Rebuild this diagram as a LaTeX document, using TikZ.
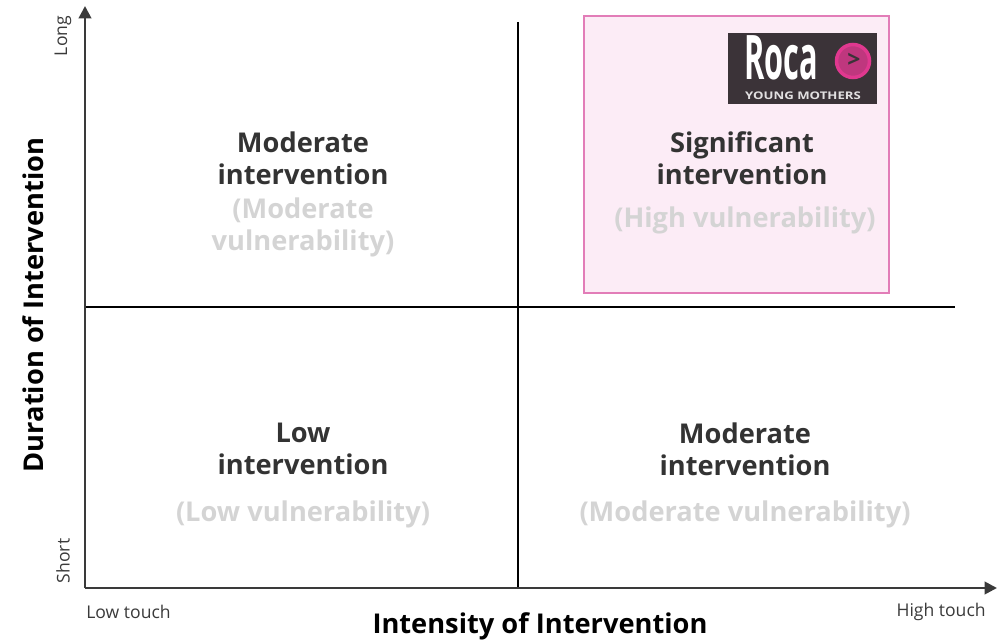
\documentclass[tikz,border=0pt]{standalone}
\usepackage{fontspec}
\setmainfont{Open Sans}
\usetikzlibrary{arrows.meta}
\definecolor{axisgray}{HTML}{3A3A3A}
\definecolor{textdark}{HTML}{333333}
\definecolor{textlight}{HTML}{D4D4D4}
\definecolor{boxpink}{HTML}{E27DB8}
\definecolor{boxfill}{HTML}{FCECF6}
\definecolor{logodark}{HTML}{3B3338}
\definecolor{logopink}{HTML}{E0388F}
\tikzset{
	quadtitle/.style={align=center, text=textdark, font=\fontsize{15.5}{18.2}\selectfont\bfseries, inner sep=0pt},
	quadsub/.style={align=center, text=textlight, font=\fontsize{15.5}{18.2}\selectfont\bfseries, inner sep=0pt},
	axistitle/.style={text=black, font=\fontsize{15.5}{18}\selectfont\bfseries, inner sep=0pt},
	axistick/.style={text=axisgray, font=\fontsize{10}{12}\selectfont, inner sep=0pt}
}
\begin{document}
\begin{tikzpicture}[x=0.02cm, y=-0.02cm]
			\useasboundingbox (0, 0) rectangle (999, 644);
			\coordinate (O)at(85, 588);
			\coordinate (YT)at(85, 6);
			\coordinate (XR)at(997, 588);
			\coordinate (VT)at(518, 22);
			\coordinate (VB)at(518, 588);
			\coordinate (HL)at(85, 307);
			\coordinate (HR)at(955, 307);
			\node[draw=boxpink, fill=boxfill, line width=1.3pt, rectangle, minimum width=6.1cm, minimum height=5.54cm, inner sep=0pt] (HIGH)at(736.5, 154.5) {};
			\node[fill=logodark, rectangle, minimum width=2.98cm, minimum height=1.42cm, inner sep=0pt] (LOGO)at(802.5, 68.5) {};
			\node[text=white, font=\fontsize{35}{35}\selectfont\bfseries, xscale=0.5, inner sep=0pt] (ROCA)at(781, 58) {Roca};
			\node[draw=logopink, fill=logopink!80!logodark, line width=2pt, circle, minimum size=0.66cm, inner sep=0pt] (PLAY)at(853, 61) {};
			\node[text=logodark, font=\fontsize{13}{13}\selectfont\bfseries, inner sep=0pt] (ARROW)at(854, 60) {>};
			\node[text=white!85!logodark, font=\fontsize{6}{6}\selectfont\bfseries, xscale=1.25, inner sep=0pt] (YM)at(803, 96) {YOUNG MOTHERS};
			\draw[black, line width=0.6pt] (VT) -- (VB);
			\draw[black, line width=0.6pt] (HL) -- (HR);
			\draw[axisgray, line width=1.5pt, -{Triangle[length=7pt, width=7pt]}] (O) -- (YT);
			\draw[axisgray, line width=1.5pt, -{Triangle[length=7pt, width=7pt]}] (O) -- (XR);
			\node[quadtitle] (TL)at(303, 158) {Moderate\\intervention};
			\node[quadsub] (TLs)at(303, 227) {(Moderate\\vulnerability)};
			\node[quadtitle] (TR)at(742, 158) {Significant\\intervention};
			\node[quadsub] (TRs)at(745, 220) {(High vulnerability)};
			\node[quadtitle] (BL)at(303, 449) {Low\\intervention};
			\node[quadsub] (BLs)at(303, 514) {(Low vulnerability)};
			\node[quadtitle] (BR)at(745, 449) {Moderate\\intervention};
			\node[quadsub] (BRs)at(745, 514) {(Moderate vulnerability)};
			\node[axistitle, rotate=90] (DUR)at(33, 305) {Duration of Intervention};
			\node[axistitle] (INT)at(540, 626) {Intensity of Intervention};
			\node[axistick, anchor=west] (LOWT)at(86, 612) {Low touch};
			\node[axistick, anchor=east] (HIGHT)at(986, 612) {High touch};
			\node[axistick, rotate=90] (LONG)at(63, 36) {Long};
			\node[axistick, rotate=90] (SHORT)at(63, 561) {Short};
		\end{tikzpicture}
\end{document}
